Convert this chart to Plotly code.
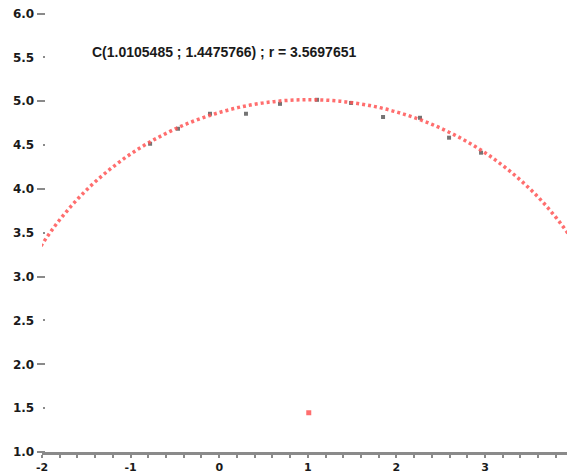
import plotly.graph_objects as go

# Fitted circle
cx, cy, r = 1.0105485, 1.4475766, 3.5697651

px = [-0.78, -0.465, -0.104, 0.302, 0.686, 1.104, 1.488, 1.849, 2.266, 2.594, 2.955]
py = [4.515, 4.686, 4.857, 4.857, 4.970, 5.016, 4.980, 4.820, 4.811, 4.584, 4.413]

y_ticks = [1.0, 1.5, 2.0, 2.5, 3.0, 3.5, 4.0, 4.5, 5.0, 5.5, 6.0]
y_labels = ["1.0", "1.5", "2.0", "2.5", "3.0", "3.5", "4.0", "4.5", "5.0", "5.5", "6.0"]
x_ticks = [-2, -1, 0, 1, 2, 3]
x_labels = ["-2", "-1", "0", "1", "2", "3"]

label = "C(1.0105485 ; 1.4475766) ; r = 3.5697651"

red = "rgba(255,85,85,0.85)"
gray = "rgba(70,70,70,0.75)"
axis_gray = "#8a8a8a"

fig = go.Figure()

fig.add_shape(type="circle", xref="x", yref="y",
              x0=cx - r, x1=cx + r, y0=cy - r, y1=cy + r,
              line=dict(color=red, width=3.5, dash="3px,3px"))

fig.add_trace(go.Scatter(x=px, y=py, mode="markers",
                         marker=dict(symbol="square", size=4, color=gray),
                         showlegend=False, hoverinfo="skip"))
fig.add_trace(go.Scatter(x=[cx], y=[cy], mode="markers",
                         marker=dict(symbol="square", size=5, color=red),
                         showlegend=False, hoverinfo="skip"))

fig.add_annotation(x=-1.459, y=5.562, xref="x", yref="y", text="<b>" + label + "</b>",
                   showarrow=False, xanchor="left", yanchor="middle",
                   font=dict(family="Liberation Sans", size=14, color="#1a1a1a"))

tickfont = dict(family="DejaVu Sans", size=12, color="#1a1a1a")
xtickfont = dict(family="DejaVu Sans", size=11, color="#1a1a1a")

fig.update_layout(
    width=567, height=474,
    margin=dict(l=42, r=0, t=0, b=22),
    paper_bgcolor="white", plot_bgcolor="white",
    showlegend=False,
    xaxis=dict(range=[-2.0, 3.925], showgrid=False, zeroline=False, automargin=False,
               showline=True, linewidth=3, linecolor=axis_gray,
               tickmode="array", tickvals=x_ticks, ticktext=["<b>%s</b>" % t for t in x_labels],
               ticks="", tickfont=xtickfont, ticklabelstandoff=3,
               minor=dict(ticks="outside", dtick=0.2, tick0=0, ticklen=3, tickwidth=2,
                          tickcolor=axis_gray)),
    yaxis=dict(range=[1.0, 6.154], showgrid=False, zeroline=False, showline=False,
               automargin=False, anchor="free", position=0.005,
               tickmode="array", tickvals=y_ticks, ticktext=["<b>%s</b>" % t for t in y_labels],
               ticks="outside", ticklen=2, tickwidth=2, tickcolor=axis_gray,
               tickfont=tickfont, ticklabelstandoff=6),
    yaxis2=dict(overlaying="y", matches="y", anchor="free", position=0.005, automargin=False,
                showgrid=False, zeroline=False, showline=False, showticklabels=False,
                tickmode="array", tickvals=[1, 2, 3, 4, 5, 6],
                ticks="outside", ticklen=8, tickwidth=2, tickcolor=axis_gray),
)

fig.add_trace(go.Scatter(x=[None], y=[None], yaxis="y2", showlegend=False, hoverinfo="skip"))

fig.write_html("out.html", config={"displayModeBar": False},
               post_script="document.body.style.margin='0';")
